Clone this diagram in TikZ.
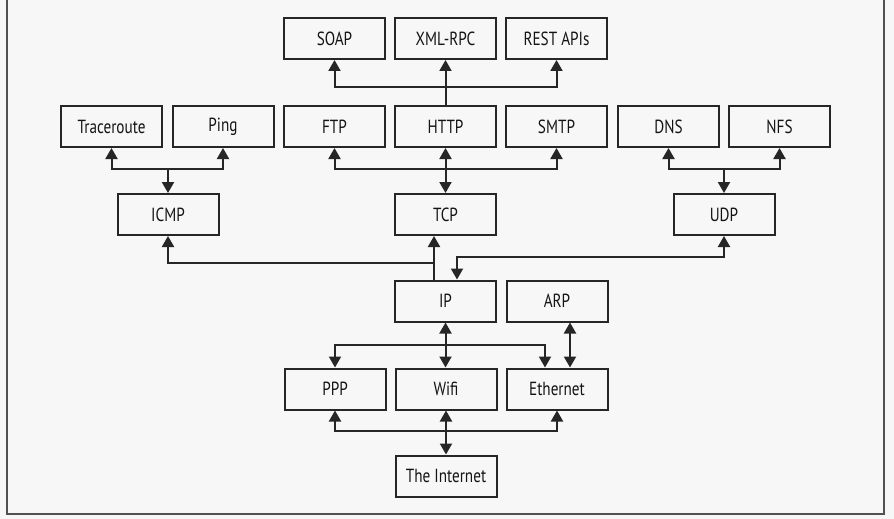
\documentclass[tikz,border=0pt]{standalone}
\usepackage{fontspec}
\setmainfont{PT Sans}[FakeStretch=0.8]
\usetikzlibrary{arrows.meta}
\definecolor{ink}{HTML}{262626}
\definecolor{txt}{HTML}{141414}
\definecolor{paper}{HTML}{F7F7F7}
\tikzset{
  pbox/.style={draw=ink, line width=2pt, fill=paper, minimum width=101pt, minimum height=41pt,
    inner sep=0pt, text=txt, font=\fontsize{19}{22}\selectfont},
  conn/.style={draw=ink, line width=2pt, line join=miter,
    >={Triangle[width=12pt,length=11pt]}},
  frame/.style={draw=ink!80, line width=1.6pt}
}
\begin{document}
\begin{tikzpicture}[x=1pt,y=-1pt]
\useasboundingbox[fill=paper] (0,0) rectangle (894,519);
\draw[frame] (7,0) -- (7,514) -- (884,514) -- (884,0);

% top row
\node[pbox] (soap) at (334.5,38.5) {SOAP};
\node[pbox] (xml) at (445.5,38.5) {XML-RPC};
\node[pbox] (rest) at (556.5,38.5) {REST APIs};
% application row
\node[pbox] (trace) at (111.5,126.5) {Traceroute};
\node[pbox] (ping) at (223,126.5) {Ping};
\node[pbox] (ftp) at (334.5,126.5) {FTP};
\node[pbox] (http) at (445.5,126.5) {HTTP};
\node[pbox] (smtp) at (556.5,126.5) {SMTP};
\node[pbox] (dns) at (668.5,126.5) {DNS};
\node[pbox] (nfs) at (779.5,126.5) {NFS};
% transport row
\node[pbox] (icmp) at (168,214.5) {ICMP};
\node[pbox] (tcp) at (445.5,214.5) {TCP};
\node[pbox] (udp) at (724,214.5) {UDP};
% network row
\node[pbox] (ip) at (445.5,301) {IP};
\node[pbox] (arp) at (557,301) {ARP};
% link row
\node[pbox] (ppp) at (335,389) {PPP};
\node[pbox] (wifi) at (446,389) {Wifi};
\node[pbox] (eth) at (557,389) {Ethernet};
\node[pbox] (inet) at (446,476) {The Internet};

% helper coordinates
\coordinate (busA) at (0,87);
\coordinate (busB) at (0,168.5);
\coordinate (busC) at (0,263);
\coordinate (busD) at (0,257);
\coordinate (busE) at (0,345);
\coordinate (busF) at (0,431);
\coordinate (tcpx) at (434,0);
\coordinate (ipx) at (457,0);
\coordinate (ethx) at (545,0);
\coordinate (arpx) at (570,0);

% HTTP to SOAP / XML-RPC / REST
\draw[conn,->] (http.north) -- (xml.south);
\draw[conn,<->] (soap.south) -- (soap.south |- busA) -- (rest.south |- busA) -- (rest.south);

% FTP / HTTP / SMTP to TCP
\draw[conn,<->] (ftp.south) -- (ftp.south |- busB) -- (smtp.south |- busB) -- (smtp.south);
\draw[conn,<->] (http.south) -- (tcp.north);

% Traceroute / Ping to ICMP
\draw[conn,<->] (trace.south) -- (trace.south |- busB) -- (ping.south |- busB) -- (ping.south);
\draw[conn,->] (icmp.north |- busB) -- (icmp.north);

% DNS / NFS to UDP
\draw[conn,<->] (dns.south) -- (dns.south |- busB) -- (nfs.south |- busB) -- (nfs.south);
\draw[conn,->] (udp.north |- busB) -- (udp.north);

% IP to TCP and ICMP
\draw[conn,->] (tcpx |- ip.north) -- (tcpx |- tcp.south);
\draw[conn,->] (tcpx |- busC) -- (icmp.south |- busC) -- (icmp.south);

% IP to UDP
\draw[conn,<->] (udp.south) -- (udp.south |- busD) -- (ipx |- busD) -- (ipx |- ip.north);

% IP to link layer
\draw[conn,<->] (ip.south) -- (ip.south |- wifi.north);
\draw[conn,<->] (ppp.north) -- (ppp.north |- busE) -- (ethx |- busE) -- (ethx |- eth.north);
\draw[conn,<->] (arpx |- arp.south) -- (arpx |- eth.north);

% link layer to The Internet
\draw[conn,<->] (ppp.south) -- (ppp.south |- busF) -- (eth.south |- busF) -- (eth.south);
\draw[conn,<->] (wifi.south) -- (inet.north);
\end{tikzpicture}
\end{document}
